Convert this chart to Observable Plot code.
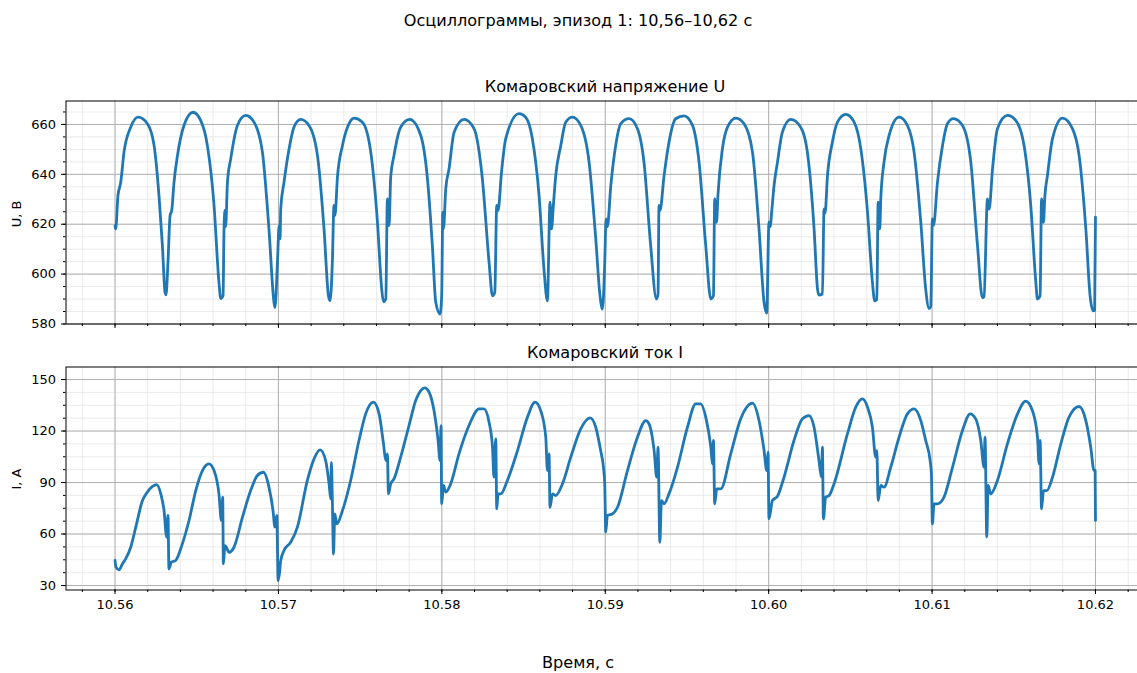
<!DOCTYPE html>
<html><head><meta charset="utf-8">
<script src="https://cdn.jsdelivr.net/npm/d3@7"></script>
<script src="https://cdn.jsdelivr.net/npm/@observablehq/plot@0.6"></script>
<style>
body{margin:0;background:#fff;}
#fig{position:relative;width:1137px;height:673px;overflow:hidden;background:#fff;font-family:"DejaVu Sans",sans-serif;color:#000;}
.t{position:absolute;white-space:nowrap;transform:translate(-50%,-50%);line-height:1;}
.r{transform:translate(-50%,-50%) rotate(-90deg);}
.panel{position:absolute;left:0;width:1144px;}
.panel svg{max-width:none !important;}
</style></head><body>
<div id="fig">
 <div class="t" style="left:578px;top:21px;font-size:16.1px">Осциллограммы, эпизод 1: 10,56–10,62 с</div>
 <div class="t" style="left:605px;top:87px;font-size:16.1px">Комаровский напряжение U</div>
 <div class="t" style="left:605px;top:353px;font-size:16.1px">Комаровский ток I</div>
 <div class="t r" style="left:16px;top:214px;font-size:13px">U, В</div>
 <div class="t r" style="left:16px;top:479px;font-size:13px">I, А</div>
 <div class="t" style="left:578px;top:663px;font-size:16.1px">Время, с</div>
 <div id="top" class="panel" style="top:90px"></div>
 <div id="bot" class="panel" style="top:356px"></div>
</div>
<script>
// ---- data ----
const uTime = [
10.56000,10.56004,10.56018,10.56035,10.56055,10.56096,10.56141,10.56198,10.56239,10.56269,
10.56290,10.56306,10.56312,10.56324,10.56337,10.56347,10.56361,10.56382,10.56422,10.56477,
10.56524,10.56565,10.56606,10.56636,10.56647,10.56661,10.56667,10.56673,10.56677,10.56688,
10.56708,10.56749,10.56800,10.56851,10.56902,10.56942,10.56973,10.56979,10.56994,10.57004,
10.57010,10.57014,10.57034,10.57065,10.57095,10.57136,10.57187,10.57239,10.57279,10.57306,
10.57316,10.57330,10.57340,10.57346,10.57361,10.57392,10.57432,10.57463,10.57514,10.57565,
10.57606,10.57632,10.57643,10.57657,10.57667,10.57677,10.57687,10.57707,10.57748,10.57804,
10.57871,10.57912,10.57942,10.57963,10.57989,10.57999,10.58006,10.58010,10.58024,10.58044,
10.58075,10.58136,10.58197,10.58248,10.58289,10.58310,10.58324,10.58336,10.58344,10.58365,
10.58391,10.58472,10.58513,10.58554,10.58595,10.58625,10.58646,10.58662,10.58671,10.58683,
10.58697,10.58728,10.58758,10.58799,10.58850,10.58901,10.58942,10.58968,10.58983,10.58997,
10.59005,10.59013,10.59034,10.59064,10.59095,10.59146,10.59197,10.59237,10.59278,10.59313,
10.59323,10.59329,10.59335,10.59360,10.59390,10.59431,10.59482,10.59534,10.59574,10.59615,
10.59646,10.59662,10.59670,10.59681,10.59690,10.59717,10.59748,10.59799,10.59849,10.59901,
10.59941,10.59972,10.59988,10.60002,10.60009,10.60020,10.60033,10.60054,10.60084,10.60135,
10.60196,10.60237,10.60278,10.60299,10.60308,10.60329,10.60339,10.60345,10.60360,10.60390,
10.60421,10.60472,10.60523,10.60564,10.60605,10.60635,10.60649,10.60662,10.60670,10.60680,
10.60686,10.60706,10.60737,10.60798,10.60849,10.60890,10.60931,10.60961,10.60982,10.60992,
10.61002,10.61009,10.61033,10.61064,10.61094,10.61131,10.61186,10.61237,10.61278,10.61308,
10.61318,10.61339,10.61349,10.61370,10.61400,10.61461,10.61512,10.61563,10.61604,10.61635,
10.61645,10.61661,10.61670,10.61682,10.61690,10.61706,10.61737,10.61798,10.61859,10.61900,
10.61941,10.61967,10.61985,10.61995,10.62000];
const uVolt = [
619.4,618.1,631.5,636.8,648.9,658.9,662.9,660.3,651.6,631.5,
611.4,592.7,591.7,604.7,623.5,625.5,636.8,647.5,659.6,664.9,
661.6,651.6,627.5,596.7,590.2,591.3,618.1,625.5,619.0,636.8,
646.2,659.6,663.6,660.9,648.9,618.1,588.6,586.6,604.7,619.4,
614.1,626.0,636.8,650.2,658.9,662.0,659.6,647.5,618.1,591.3,
589.3,604.7,627.5,623.5,638.8,651.6,660.3,662.5,660.9,648.9,
620.8,594.0,588.9,590.0,630.2,619.4,638.8,647.5,658.9,662.0,
655.6,638.2,611.4,588.6,584.0,591.3,624.8,618.1,634.2,642.2,
656.9,662.0,658.3,638.2,604.7,591.3,592.7,627.5,625.5,640.8,
654.3,664.3,662.9,654.3,631.5,602.0,589.3,628.8,618.1,628.0,
639.5,651.6,660.9,662.9,659.6,644.9,614.1,591.3,586.0,604.7,
622.1,619.0,635.5,651.6,660.3,662.3,658.3,644.9,611.4,590.0,
592.0,627.5,625.5,639.5,652.9,662.3,663.4,659.6,644.9,611.4,
590.0,591.3,630.2,620.8,632.0,650.2,658.9,662.5,660.3,648.9,
618.1,588.6,584.4,620.8,619.0,626.0,635.5,644.9,656.9,662.0,
658.9,648.9,618.1,594.0,591.6,592.0,626.1,624.4,639.5,652.9,
660.9,664.0,660.9,650.2,624.8,596.7,589.3,589.8,628.8,618.1,
630.0,644.9,655.6,662.9,659.6,648.9,620.8,594.0,586.2,587.0,
622.1,619.5,636.8,651.6,660.3,662.3,659.6,644.9,611.4,590.6,
591.0,630.2,626.0,642.2,658.3,663.6,661.6,651.6,627.5,596.7,
590.0,591.3,630.2,620.8,631.0,639.5,654.3,662.5,658.3,647.5,
618.1,591.3,585.3,585.5,622.8];

const iTime = [
10.56000,10.56006,10.56024,10.56045,10.56065,10.56096,10.56127,10.56168,10.56198,10.56229,
10.56255,10.56280,10.56300,10.56316,10.56324,10.56330,10.56345,10.56371,10.56412,10.56453,
10.56494,10.56535,10.56575,10.56606,10.56636,10.56651,10.56659,10.56663,10.56673,10.56698,
10.56728,10.56780,10.56830,10.56871,10.56908,10.56942,10.56969,10.56977,10.56990,10.56998,
10.57006,10.57014,10.57034,10.57075,10.57116,10.57177,10.57218,10.57255,10.57289,10.57310,
10.57320,10.57324,10.57330,10.57337,10.57345,10.57357,10.57392,10.57442,10.57493,10.57534,
10.57581,10.57616,10.57643,10.57657,10.57667,10.57673,10.57687,10.57707,10.57748,10.57799,
10.57840,10.57871,10.57895,10.57922,10.57952,10.57977,10.57989,10.57995,10.57999,10.58010,
10.58024,10.58054,10.58105,10.58166,10.58228,10.58258,10.58289,10.58310,10.58319,10.58330,
10.58336,10.58344,10.58360,10.58401,10.58463,10.58524,10.58570,10.58605,10.58636,10.58646,
10.58656,10.58662,10.58677,10.58697,10.58738,10.58789,10.58850,10.58907,10.58942,10.58972,
10.58989,10.58997,10.59003,10.59013,10.59044,10.59075,10.59136,10.59197,10.59248,10.59268,
10.59299,10.59315,10.59323,10.59334,10.59344,10.59360,10.59390,10.59442,10.59503,10.59554,
10.59584,10.59615,10.59646,10.59656,10.59662,10.59670,10.59682,10.59707,10.59768,10.59829,
10.59901,10.59941,10.59972,10.59988,10.59996,10.60002,10.60023,10.60054,10.60094,10.60155,
10.60207,10.60247,10.60278,10.60308,10.60323,10.60329,10.60335,10.60349,10.60370,10.60400,
10.60482,10.60533,10.60574,10.60605,10.60635,10.60655,10.60662,10.60670,10.60686,10.60706,
10.60747,10.60798,10.60849,10.60890,10.60931,10.60961,10.60988,10.60996,10.61002,10.61012,
10.61033,10.61073,10.61125,10.61186,10.61233,10.61267,10.61298,10.61318,10.61324,10.61335,
10.61343,10.61359,10.61400,10.61461,10.61523,10.61573,10.61614,10.61645,10.61655,10.61661,
10.61670,10.61682,10.61702,10.61737,10.61788,10.61838,10.61900,10.61941,10.61971,10.61991,
10.61998,10.62000];
const iAmp = [
44.6,40.7,39.1,42.6,45.5,52.3,64.0,79.5,84.4,87.7,
88.8,83.4,73.7,58.2,70.8,39.7,43.6,44.6,54.3,67.9,
85.3,97.0,100.9,97.0,83.4,67.9,81.5,42.6,53.3,49.4,
52.3,69.8,85.3,94.1,96.0,87.3,71.7,64.0,70.8,32.9,
36.8,44.6,50.4,55.2,64.0,91.2,103.8,109.0,102.8,89.2,
80.5,101.8,79.5,48.4,71.7,65.9,73.7,91.2,114.5,130.0,
136.8,130.0,112.5,102.8,106.7,83.4,89.2,92.1,104.8,123.2,
137.8,143.6,145.1,142.6,131.9,114.5,102.8,123.2,77.6,88.3,
84.4,89.2,106.7,123.2,132.9,132.9,125.1,110.6,93.1,115.4,
74.7,83.4,83.4,91.2,108.6,128.1,136.8,131.9,116.4,97.0,
106.7,75.6,83.4,82.4,89.2,104.8,121.3,127.7,122.2,108.6,
98.9,89.2,61.1,70.8,71.7,75.6,97.0,116.4,126.1,124.2,
108.6,93.1,110.6,55.2,79.5,77.6,83.4,98.9,122.2,135.8,
135.8,128.1,110.6,100.9,114.5,77.6,86.3,86.3,106.7,127.1,
136.2,126.1,108.6,97.0,107.7,68.8,79.5,82.0,93.1,114.5,
127.1,129.0,122.2,102.8,93.1,110.6,68.8,81.5,82.4,89.2,
118.3,133.9,138.7,133.9,122.2,104.8,108.6,79.5,88.3,87.3,
98.9,116.4,130.0,132.9,126.1,114.5,102.8,95.0,65.9,77.6,
77.6,81.5,98.9,120.3,130.0,127.1,114.5,98.9,116.4,58.2,
88.3,83.4,91.2,112.5,130.0,137.4,131.9,116.4,100.9,114.5,
74.7,85.3,85.3,93.1,112.5,128.1,134.3,126.1,110.6,97.0,
97.0,67.9];

const xMajorTicks = [10.56, 10.57, 10.58, 10.59, 10.60, 10.61, 10.62];
const uMajorTicks = [580, 600, 620, 640, 660];
const iMajorTicks = [30, 60, 90, 120, 150];

// ---- build ----
const uData = uTime.map((t, k) => ({t, v: uVolt[k]}));
const iData = iTime.map((t, k) => ({t, v: iAmp[k]}));
const xMinorTicks = d3.range(0, 33).map(k => 10.558 + k * 0.002);
const uMinorTicks = d3.range(580, 669, 5);
const iMinorTicks = d3.range(30, 157, 7.5);

const BLUE = "#1f77b4";
function panel({data, yDomain, yMajor, yMinor, height, marginTop, marginBottom, xLabels}) {
  return Plot.plot({
    width: 1144, height, marginLeft: 65.5, marginRight: 0, marginTop, marginBottom,
    x: {domain: [10.557, 10.623]},
    y: {domain: yDomain},
    style: {fontFamily: "DejaVu Sans", fontSize: "13px", color: "black", background: "transparent",
            overflow: "visible", maxWidth: "none", width: "1144px", height: height + "px"},
    marks: [
      Plot.gridX(xMinorTicks, {stroke: "#e6e6e6", strokeOpacity: 1, strokeWidth: 0.8}),
      Plot.gridY(yMinor, {stroke: "#e6e6e6", strokeOpacity: 1, strokeWidth: 0.8}),
      Plot.gridX(xMajorTicks, {stroke: "#b0b0b0", strokeOpacity: 1, strokeWidth: 1}),
      Plot.gridY(yMajor, {stroke: "#b0b0b0", strokeOpacity: 1, strokeWidth: 1}),
      Plot.line(data, {x: "t", y: "v", stroke: BLUE, strokeWidth: 2.8, curve: "monotone-x", strokeLinejoin: "round"}),
      Plot.frame({stroke: "black", strokeWidth: 1}),
      Plot.axisX(xMinorTicks, {tickSize: 2.5, fill: "none", label: null, stroke: "black"}),
      Plot.axisX(xMajorTicks, {tickSize: 4.5, tickPadding: 5, label: null, stroke: "black",
        fill: xLabels ? "black" : "none", tickFormat: d => d.toFixed(2)}),
      Plot.axisY(yMinor, {tickSize: 2.5, fill: "none", label: null, stroke: "black"}),
      Plot.axisY(yMajor, {tickSize: 4.5, tickPadding: 5.5, label: null, stroke: "black", fill: "black"})
    ]
  });
}

document.getElementById("top").append(panel({
  data: uData, yDomain: [580, 669.4], yMajor: uMajorTicks, yMinor: uMinorTicks,
  height: 254, marginTop: 10.5, marginBottom: 20.5, xLabels: false
}));
document.getElementById("bot").append(panel({
  data: iData, yDomain: [27.4, 157.3], yMajor: iMajorTicks, yMinor: iMinorTicks,
  height: 264, marginTop: 10.5, marginBottom: 30.5, xLabels: true
}));
</script>
</body></html>
